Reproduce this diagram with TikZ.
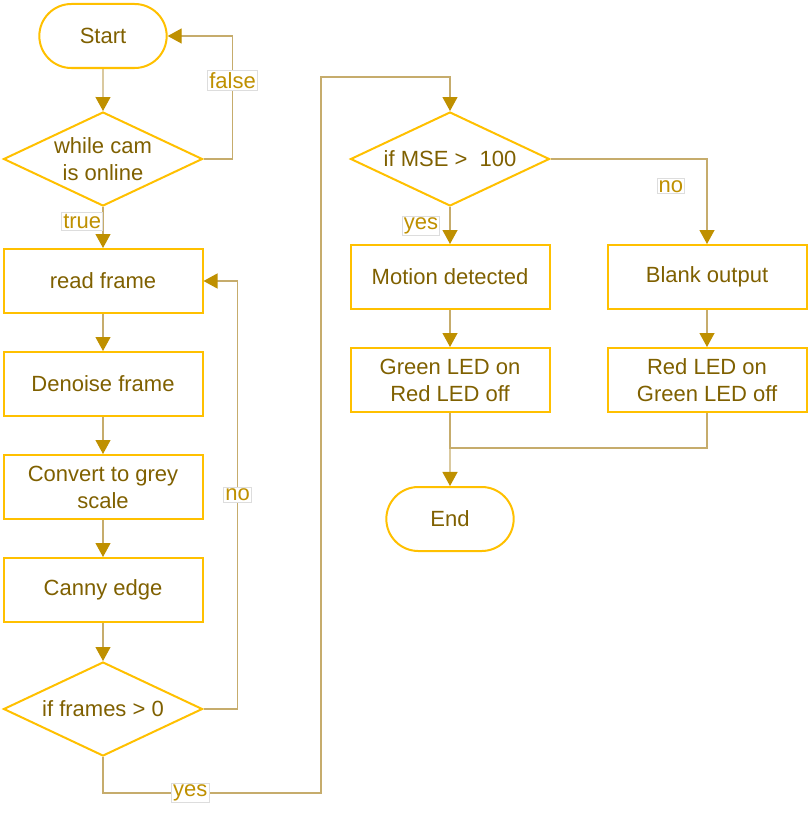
\documentclass[tikz,border=0pt]{standalone}
\usepackage{fontspec}
\setmainfont{Liberation Sans}
\usetikzlibrary{shapes.geometric,shapes.misc,arrows.meta}
\definecolor{bordc}{HTML}{FFC000}
\definecolor{txtc}{HTML}{7F6000}
\definecolor{tipc}{HTML}{BF9000}
\definecolor{linec}{HTML}{C6AC6C}
\definecolor{labc}{HTML}{DDDDDD}
\begin{document}
\begin{tikzpicture}[x=1pt,y=-1pt,
		every node/.style={font=\fontsize{22}{27}\selectfont, text=txtc},
		box/.style={draw=bordc, line width=2pt, minimum width=199pt, minimum height=64pt, inner sep=0pt, align=center},
		term/.style={draw=bordc, line width=2pt, rounded rectangle, minimum width=134pt, minimum height=64pt},
		cond/.style={draw=bordc, line width=2pt, diamond, aspect=2.12, minimum width=199pt, minimum height=94pt, inner sep=0pt, align=center},
		flow/.style={draw=linec, line width=1.2pt, -{Triangle[length=14pt,width=15pt,color=tipc]}},
		merge/.style={draw=linec, line width=1.2pt},
		lab/.style={draw=labc, line width=0.6pt, fill=white, text=tipc, inner sep=1.5pt}]
		\useasboundingbox (0,0) rectangle (810,816);
		% left column
		\node[term] (start) at (103,36) {Start};
		\node[cond] (online) at (103,159) {while cam\\is online};
		\node[box] (read) at (103,281) {read frame};
		\node[box] (denoise) at (103,384) {Denoise frame};
		\node[box] (grey) at (103,487) {Convert to grey\\scale};
		\node[box] (canny) at (103,590) {Canny edge};
		\node[cond] (frames) at (103,709) {if frames > 0};
		% right part
		\node[cond] (mse) at (450,159) {if MSE >\ \ 100};
		\node[box] (motion) at (450,277) {Motion detected};
		\node[box] (blank) at (707,277) {Blank output};
		\node[box] (greenon) at (450,380) {Green LED on\\Red LED off};
		\node[box] (redon) at (707,380) {Red LED on\\Green LED off};
		\node[term] (finish) at (450,519) {End};
		% connectors
		\draw[flow] (start) -- (online);
		\draw[flow] (online) -- node[lab, pos=0.35, anchor=east]{true} (read);
		\draw[flow] (online.east) -- ++(29,0) |- node[lab, pos=0.32]{false} (start.east);
		\draw[flow] (read) -- (denoise);
		\draw[flow] (denoise) -- (grey);
		\draw[flow] (grey) -- (canny);
		\draw[flow] (canny) -- (frames);
		\draw[flow] (frames.east) -- ++(34,0) |- node[lab, pos=0.25]{no} (read.east);
		\draw[flow] (frames.south) -- ++(0,36) -- node[lab, pos=0.4]{yes} ++(218,0) -- ++(0,-716) -| (mse.north);
		\draw[flow] (mse) -- node[lab, pos=0.5, anchor=east, xshift=-10pt]{yes} (motion);
		\draw[flow] (mse.east) -| node[lab, pos=0.66, anchor=east, xshift=-22pt]{no} (blank);
		\draw[flow] (motion) -- (greenon);
		\draw[flow] (blank) -- (redon);
		\draw[flow] (greenon) -- (finish);
		\draw[merge] (redon.south) -- ++(0,35) -| (greenon.south);
	\end{tikzpicture}
\end{document}
